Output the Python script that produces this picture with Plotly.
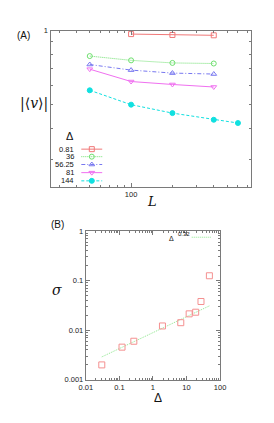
import math
import plotly.graph_objects as go

W, H = 274, 423

# ---------------- Panel (A) data ----------------
L_vals = [50, 100, 200, 400, 600]
deltas_A = ["0.81", "36", "56.25", "81", "144"]
v_081 = [None, 0.969, 0.961, 0.958, None]
v_36 = [0.789, 0.758, 0.740, 0.736, None]
v_5625 = [0.729, 0.692, 0.673, 0.667, None]
v_81 = [0.698, 0.622, 0.605, 0.591, None]
v_144 = [0.573, 0.501, 0.463, 0.435, 0.422]

# ---------------- Panel (B) data ----------------
delta_B = [0.03, 0.12, 0.27, 1.92, 6.75, 12, 18.75, 27, 48]
sigma_B = [0.0020, 0.00456, 0.0060, 0.0122, 0.0142, 0.0214, 0.0231, 0.038, 0.1255]
fit_x = [0.03, 48]
fit_y = [0.0029, 0.031]
fit_base = "Δ"
fit_exp = "0.32"

series_A = [
    (deltas_A[0], v_081, "#f07878", "solid", "square-open"),
    (deltas_A[1], v_36, "#6ee06e", "1px,1px", "circle-open"),
    (deltas_A[2], v_5625, "#7878f0", "4px,2px,1px,2px", "triangle-up-open"),
    (deltas_A[3], v_81, "#f070f0", "solid", "triangle-down-open"),
    (deltas_A[4], v_144, "#10e0e0", "3px,2px", "circle"),
]

def px(x):
    return x / W

def py(y):
    return 1 - y / H

# plot areas in pixels
A_x0, A_x1, A_y0, A_y1 = 45.7, 256.0, 27.3, 187.0
B_x0, B_x1, B_y0, B_y1 = 82.7, 223.7, 232.0, 384.0

fig = go.Figure()

for name, vals, col, dash, sym in series_A:
    xs = [L for L, v in zip(L_vals, vals) if v is not None]
    ys = [v for v in vals if v is not None]
    fig.add_trace(go.Scatter(
        x=xs, y=ys, mode="lines+markers", xaxis="x", yaxis="y",
        line=dict(color=col, width=1, dash=dash),
        marker=dict(symbol=sym, size=5, color=col, line=dict(color=col, width=1)),
        showlegend=False))

# legend for A (custom, gnuplot-like)
rows = [0.2423, 0.1941, 0.1440, 0.0920, 0.0394]
lx0, lx1, lxm = 0.1536, 0.258, 0.206
for (name, vals, col, dash, sym), r in zip(series_A, rows):
    fig.add_trace(go.Scatter(
        x=[lx0, lx1], y=[r, r], mode="lines", xaxis="x3", yaxis="y3",
        line=dict(color=col, width=1, dash=dash), showlegend=False, hoverinfo="skip"))
    fig.add_trace(go.Scatter(
        x=[lxm], y=[r], mode="markers", xaxis="x3", yaxis="y3",
        marker=dict(symbol=sym, size=5, color=col, line=dict(color=col, width=1)),
        showlegend=False, hoverinfo="skip"))

# Panel B
fig.add_trace(go.Scatter(
    x=fit_x, y=fit_y, mode="lines", xaxis="x2", yaxis="y2",
    line=dict(color="#8ee88e", width=1, dash="1px,1px"), showlegend=False))
fig.add_trace(go.Scatter(
    x=delta_B, y=sigma_B, mode="markers", xaxis="x2", yaxis="y2",
    marker=dict(symbol="square-open", size=6, color="#f49090",
                line=dict(color="#f49090", width=1)),
    showlegend=False))
# legend sample for B
fig.add_trace(go.Scatter(
    x=[0.789, 0.938], y=[0.9586, 0.9586], mode="lines", xaxis="x4", yaxis="y4",
    line=dict(color="#8ee88e", width=1, dash="1px,1px"), showlegend=False, hoverinfo="skip"))

tickfont = dict(family="Liberation Sans, Arial, sans-serif", size=7.5, color="#222")
axcommon = dict(type="log", showline=True, linecolor="#7a7a7a", linewidth=1,
                mirror="allticks", ticks="inside", ticklen=4, tickcolor="#7a7a7a",
                showgrid=False, zeroline=False, tickfont=tickfont)

minorA_x = [30, 40, 50, 60, 70, 80, 90, 200, 300, 400, 500, 600, 700]
minorA_y = [0.3, 0.4, 0.5, 0.6, 0.7, 0.8, 0.9]
minorB_x = [m * 10 ** e for e in range(-2, 2) for m in range(2, 10)]
minorB_y = [m * 10 ** e for e in range(-3, 0) for m in range(2, 10)]

fig.update_layout(
    width=W, height=H, margin=dict(l=0, r=0, t=0, b=0),
    paper_bgcolor="white", plot_bgcolor="white",
    xaxis=dict(axcommon, domain=[px(A_x0), px(A_x1)], anchor="y",
               range=[math.log10(25.9), math.log10(745)],
               tickmode="array", tickvals=[100], ticktext=["100"],
               minor=dict(tickmode="array", tickvals=minorA_x, ticklen=2,
                          ticks="inside", tickcolor="#7a7a7a")),
    yaxis=dict(axcommon, domain=[py(A_y1), py(A_y0)], anchor="x",
               range=[math.log10(0.232), 0],
               tickmode="array", tickvals=[1], ticktext=["1"],
               minor=dict(tickmode="array", tickvals=minorA_y, ticklen=2,
                          ticks="inside", tickcolor="#7a7a7a")),
    xaxis2=dict(axcommon, domain=[px(B_x0), px(B_x1)], anchor="y2",
                range=[-2, 2], tickmode="array",
                tickvals=[0.01, 0.1, 1, 10, 100],
                ticktext=["0.01", "0.1", "1", "10", "100"],
                minor=dict(tickmode="array", tickvals=minorB_x, ticklen=2,
                           ticks="inside", tickcolor="#7a7a7a")),
    yaxis2=dict(axcommon, domain=[py(B_y1), py(B_y0)], anchor="x2",
                range=[-3, 0], tickmode="array",
                tickvals=[0.001, 0.01, 0.1, 1],
                ticktext=["0.001", "0.01", "0.1", "1"],
                minor=dict(tickmode="array", tickvals=minorB_y, ticklen=2,
                           ticks="inside", tickcolor="#7a7a7a")),
    xaxis3=dict(overlaying="x", anchor="y3", range=[0, 1], visible=False),
    yaxis3=dict(overlaying="y", anchor="x3", range=[0, 1], visible=False),
    xaxis4=dict(overlaying="x2", anchor="y4", range=[0, 1], visible=False),
    yaxis4=dict(overlaying="y2", anchor="x4", range=[0, 1], visible=False),
)

ann = []
def add_text(text, x, y, size, family="Liberation Sans, Arial, sans-serif",
             xanchor="center", yanchor="middle", xref="paper", yref="paper"):
    ann.append(dict(text=text, x=x, y=y, xref=xref, yref=yref, showarrow=False,
                    xanchor=xanchor, yanchor=yanchor,
                    font=dict(family=family, size=size, color="#111")))

serif = "DejaVu Serif, Liberation Serif, serif"
add_text("(A)", px(17), py(32), 10)
add_text("|⟨<i>v</i>⟩|", px(28), py(102), 14, family=serif)
add_text("<i>L</i>", px(152), py(202), 13, family=serif)
add_text("Δ", 0.0965, 0.3256, 11, xref="x3 domain", yref="y3 domain")
for (name, *_), r in zip(series_A, rows):
    add_text(name, 0.125, r, 7.5, xanchor="right", xref="x3 domain", yref="y3 domain")

add_text("(B)", px(53), py(225), 10)
add_text("<i>σ</i>", px(52), py(292), 14, family=serif)
add_text("Δ", px(159), py(403), 12)
add_text(fit_base, px(177), py(239.5), 7, xanchor="right")
add_text(fit_exp, px(177.5), py(234.5), 6, xanchor="left")

fig.update_layout(annotations=ann)
fig.write_html(
    "out.html",
    config={"displayModeBar": False},
    post_script="document.body.style.margin='0';document.body.style.overflow='hidden';",
)
